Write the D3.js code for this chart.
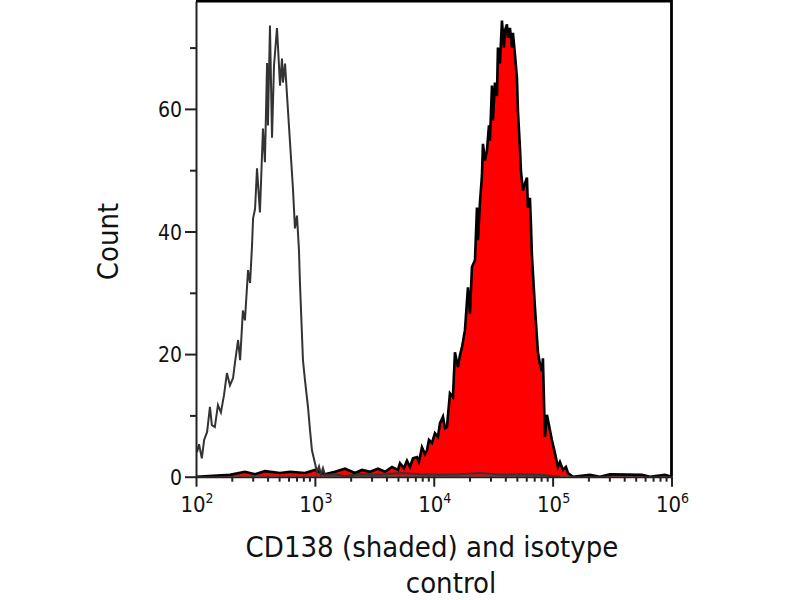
<!DOCTYPE html>
<html>
<head>
<meta charset="utf-8">
<script src="https://cdn.jsdelivr.net/npm/d3@7"></script>
<style>
  html, body { margin: 0; padding: 0; background: #fff; }
  svg { display: block; }
  text { font-family: 'DejaVu Sans Condensed', 'Liberation Sans', sans-serif; fill: #111; }
</style>
</head>
<body>
<div id="chart"></div>
<script>
'use strict';

// isotype control histogram (open curve)
var isoIntensity = [102, 106, 112, 117, 124, 131, 136, 144, 153, 162, 172, 182, 193, 205, 213,
  226, 235, 248, 258, 274, 285, 296, 302, 314, 326, 345, 359, 366, 380, 396, 403, 419, 436,
  453, 480, 489, 509, 529, 539, 561, 583, 618, 654, 680, 707, 735, 749, 794, 826, 875, 910,
  945, 1002, 1041, 1083, 1125, 1170, 1216, 1476, 1792, 2394, 3528, 5197, 7656, 11275, 16613,
  24468, 36050, 53100, 78200, 115200];
var isoCount = [4.0, 5.3, 3.0, 6.0, 7.3, 11.4, 8.4, 8.1, 11.7, 10.5, 13.3, 16.9, 14.9, 16.1, 18.7,
  22.3, 19.0, 27.1, 25.5, 33.7, 31.6, 37.7, 42.1, 43.7, 50.3, 43.1, 52.4, 56.8, 51.3, 67.5, 57.3,
  73.6, 55.3, 67.0, 73.2, 70.3, 63.8, 68.2, 64.3, 67.4, 62.2, 54.5, 47.0, 40.5, 42.6, 36.9, 31.6,
  19.0, 15.7, 11.4, 7.6, 4.3, 2.2, 0.8, 1.7, 0.4, 1.4, 0.3, 0.4, 0.1, 0.4, 0.3, 0.6, 0.4, 0.3,
  0.4, 0.6, 0.3, 0.4, 0.3, 0];

// CD138 histogram (shaded)
var cdIntensity = [100, 193, 258, 314, 380, 509, 618, 826, 1002, 1216, 1476, 1792, 2174, 2490,
  2906, 3394, 3887, 4450, 5000, 5197, 5615, 5953, 6306, 6685, 7224, 7506, 7957, 8433, 8766,
  9113, 9658, 10234, 10846, 11275, 11951, 12426, 12912, 13686, 14503, 15077, 15977, 16613,
  17271, 18299, 19393, 20163, 20958, 22213, 23091, 23542, 24468, 25432, 25936, 26960, 28025,
  29134, 29704, 30869, 31470, 32718, 34010, 34674, 36050, 37470, 38950, 39710, 41270, 42090,
  43750, 45480, 46370, 48190, 50090, 51070, 53100, 54130, 56260, 58480, 60790, 61980, 64420,
  65680, 66970, 70970, 75230, 78200, 81280, 82870, 86140, 89570, 94910, 98650, 104500, 110800,
  115200, 122100, 129400, 134500, 148200, 205900, 249900, 303400, 563700, 658200, 880100, 1000000];
var cdCount = [0, 0.3, 0.8, 0.4, 0.9, 0.6, 0.8, 0.6, 1.1, 0.4, 0.8, 1.3, 0.6, 1.1,
  0.8, 1.3, 0.8, 1.6, 1.1, 2.2, 1.4, 2.6, 1.6, 3.0, 3.2, 2.4, 4.8, 3.7, 4.3,
  6.0, 5.5, 7.1, 6.5, 8.7, 9.8, 7.9, 8.1, 13.6, 13.0, 20.3, 17.9, 19.8,
  21.1, 23.9, 30.9, 26.6, 34.2, 35.3, 43.9, 38.6, 44.7, 49.1, 54.3, 51.6, 53.2,
  57.3, 54.8, 63.8, 58.1, 64.3, 62.1, 70.0, 67.4, 74.4, 70.0, 72.8, 73.8, 71.6,
  73.2, 70.0, 72.4, 68.9, 65.1, 59.7, 53.7, 49.9, 46.7, 47.8, 48.8, 43.9, 45.5,
  41.3, 36.1, 27.7, 20.3, 18.4, 17.2, 19.3, 6.5, 10.1, 7.6, 6.0, 3.9, 1.6,
  2.4, 1.1, 1.6, 0.6, 0, 0.3, 0, 0.4, 0.3, 0, 0.3, 0];

var yMajorTicks = [0, 20, 40, 60];
var yMinorTicks = [10, 30, 50, 70];
var xDecades = [2, 3, 4, 5, 6];
var xTitleLines = ['CD138 (shaded) and isotype', 'control'];
var yTitle = 'Count';

var width = 800,
    height = 600,
    plot = { left: 196, right: 671.5, top: 1, bottom: 476.7 };

var x = d3.scaleLog()
  .domain([1e2, 1e6])
  .range([plot.left, plot.right]);

var y = d3.scaleLinear()
  .domain([0, 77.6])
  .range([plot.bottom, plot.top]);

var svg = d3.select('#chart')
  .append('svg')
  .attr('width', width)
  .attr('height', height);

svg.append('clipPath')
  .attr('id', 'plot-clip')
  .append('rect')
    .attr('x', plot.left)
    .attr('y', plot.top)
    .attr('width', plot.right - plot.left)
    .attr('height', plot.bottom - plot.top);

function zip(xs, ys) {
  return xs.map(function (v, i) { return { v: v, c: ys[i] }; });
}

var cdData = zip(cdIntensity, cdCount),
    isoData = zip(isoIntensity, isoCount);

var area = d3.area()
  .x(function (d) { return x(d.v); })
  .y0(y(0))
  .y1(function (d) { return y(d.c); });

var line = d3.line()
  .x(function (d) { return x(d.v); })
  .y(function (d) { return y(d.c); });

var marks = svg.append('g').attr('clip-path', 'url(#plot-clip)');

// shaded CD138 with its black outline
marks.append('path')
  .datum(cdData)
  .attr('d', area)
  .attr('fill', '#ff0000');

marks.append('path')
  .datum(cdData)
  .attr('d', line)
  .attr('fill', 'none')
  .attr('stroke', '#000')
  .attr('stroke-width', 2.6)
  .attr('stroke-linejoin', 'miter');

// isotype on top
marks.append('path')
  .datum(isoData)
  .attr('d', line)
  .attr('fill', 'none')
  .attr('stroke', '#333')
  .attr('stroke-width', 2);

// frame: top and right in black
svg.append('path')
  .attr('d', 'M' + plot.left + ',' + plot.top + 'H' + plot.right + 'V' + plot.bottom)
  .attr('fill', 'none')
  .attr('stroke', '#000')
  .attr('stroke-width', 2.8);

// y axis
var yAxis = svg.append('g')
  .attr('transform', 'translate(' + plot.left + ',0)')
  .call(d3.axisLeft(y).tickValues(yMajorTicks).tickSize(11).tickSizeOuter(0).tickPadding(3));

svg.append('g')
  .attr('transform', 'translate(' + plot.left + ',0)')
  .call(d3.axisLeft(y).tickValues(yMinorTicks).tickSize(6).tickSizeOuter(0).tickFormat(''))
  .select('.domain').remove();

yAxis.selectAll('text')
  .style('font-size', '21px')
  .attr('dy', '0.36em');

// x axis
var minorX = x.ticks().filter(function (v) {
  return xDecades.indexOf(Math.log10(v)) < 0;
});

svg.append('g')
  .attr('transform', 'translate(0,' + plot.bottom + ')')
  .call(d3.axisBottom(x).tickValues(xDecades.map(function (e) { return Math.pow(10, e); }))
    .tickSize(10).tickSizeOuter(0).tickFormat(''));

svg.append('g')
  .attr('transform', 'translate(0,' + plot.bottom + ')')
  .call(d3.axisBottom(x).tickValues(minorX).tickSize(5).tickSizeOuter(0).tickFormat(''))
  .select('.domain').remove();

svg.selectAll('.domain, .tick line')
  .attr('stroke', '#222')
  .attr('stroke-width', 2);

var xLabels = svg.append('g')
  .selectAll('text')
  .data(xDecades)
  .enter()
  .append('text')
    .attr('x', function (e) { return x(Math.pow(10, e)) + 1; })
    .attr('y', 512)
    .attr('text-anchor', 'middle')
    .style('font-size', '22px');

xLabels.append('tspan').text('10');
xLabels.append('tspan')
  .attr('dy', -9)
  .style('font-size', '14px')
  .text(function (e) { return e; });

// titles
svg.append('text')
  .attr('transform', 'translate(118,241.5) rotate(-90)')
  .attr('text-anchor', 'middle')
  .style('font-size', '29px')
  .text(yTitle);

svg.append('g')
  .selectAll('text')
  .data(xTitleLines)
  .enter()
  .append('text')
    .attr('x', function (d, i) { return i === 0 ? 432 : 451; })
    .attr('y', function (d, i) { return 556.5 + i * 36.5; })
    .attr('text-anchor', 'middle')
    .style('font-size', '29px')
    .text(function (d) { return d; });
</script>
</body>
</html>
